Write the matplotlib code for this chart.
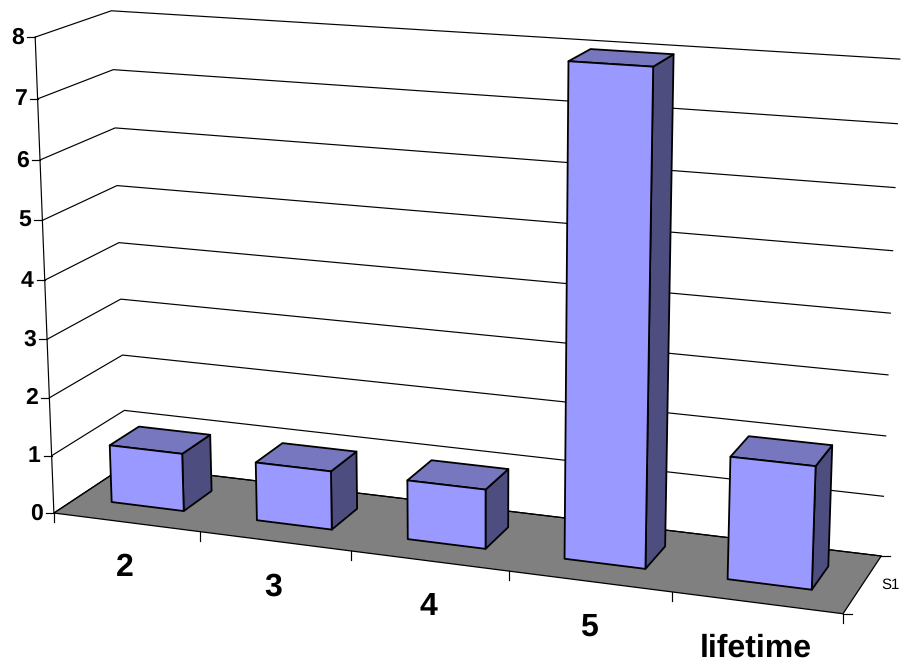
import numpy as np
import matplotlib
matplotlib.use("Agg")
import matplotlib.pyplot as plt
from matplotlib.patches import Polygon

plt.rcParams['font.family'] = ['Liberation Sans', 'DejaVu Sans']
plt.rcParams['text.hinting'] = 'none'
plt.rcParams['text.hinting_factor'] = 1

categories = ['2', '3', '4', '5', 'lifetime']
values = [1, 1, 1, 8, 2]
y_ticks = [0, 1, 2, 3, 4, 5, 6, 7, 8]
series_name = 'S1'

# Camera of the 3-D chart box: (category, depth, value) -> picture position
anchor_world = np.array([
    (0, 0, 0), (0, 0, 1), (0, 0, 7), (0, 0, 8),
    (1, 0, 0), (2, 0, 0), (3, 0, 0), (4, 0, 0), (5, 0, 0),
    (0, 1, 0), (0, 1, 1), (0, 1, 2), (0, 1, 5), (0, 1, 7), (0, 1, 8),
    (5, 1, 0), (5, 1, 1), (5, 1, 2), (5, 1, 3), (5, 1, 4), (5, 1, 5), (5, 1, 6), (5, 1, 7), (5, 1, 8),
], float)
anchor_px = np.array([
    (54, 513), (52, 455), (38, 98), (35, 37),
    (200, 532), (351, 552), (508, 572), (672, 592), (843, 613),
    (126, 465), (124, 410), (123, 355), (117, 186), (113, 70), (111, 11),
    (879, 556), (884, 496), (887, 436), (889, 375), (891, 313), (893, 250), (895, 187), (897, 124), (899, 60),
], float)


def fit_camera(w, p):
    weight = np.ones(len(w))
    for _ in range(30):
        rows, rhs = [], []
        for (x, d, z), (u, v), s in zip(w, p, weight):
            rows.append(np.array([x, d, z, 1, 0, 0, 0, 0, -u * x, -u * d, -u * z]) / s)
            rhs.append(u / s)
            rows.append(np.array([0, 0, 0, 0, x, d, z, 1, -v * x, -v * d, -v * z]) / s)
            rhs.append(v / s)
        sol = np.linalg.lstsq(np.array(rows), np.array(rhs), rcond=None)[0]
        cam = np.append(sol, 1.0).reshape(3, 4)
        weight = (cam @ np.c_[w, np.ones(len(w))].T)[2]
    return cam


CAM = fit_camera(anchor_world, anchor_px)


def pj(x, d, z):
    h = CAM @ np.array([x, d, z, 1.0])
    return h[0] / h[2], h[1] / h[2]


BAR_L, BAR_R = 0.256, 0.245
D0, D1 = 0.31, 0.72
FRONT, TOP, SIDE = '#9999FF', '#7777BF', '#4D4D80'
INK = '#000000'

fig = plt.figure(figsize=(9.01, 6.66), dpi=100)
ax = fig.add_axes([0, 0, 1, 1])
ax.set_xlim(0, 901)
ax.set_ylim(666, 0)
ax.axis('off')

n = len(categories)
zmax = y_ticks[-1]

# floor
ax.add_patch(Polygon([pj(0, 0, 0), pj(n, 0, 0), pj(n, 1, 0), pj(0, 1, 0)],
                     closed=True, fc='#808080', ec=INK, lw=0.9, zorder=1))

# gridlines on the walls and value axis
for z in y_ticks:
    pts = [pj(0, 0, z), pj(0, 1, z), pj(n, 1, z)]
    ax.plot(*zip(*pts), color=INK, lw=0.85, zorder=2)
    u, v = pj(0, 0, z)
    ax.plot([u - 8, u], [v, v], color=INK, lw=0.85, zorder=2)
    ax.text(u - 11, v + 0.5, str(z), ha='right', va='center',
            fontsize=16.5, fontweight='bold', color=INK)
ax.plot(*zip(pj(0, 0, 0), pj(0, 0, zmax)), color=INK, lw=0.85, zorder=2)

# category ticks and labels
for i in range(n + 1):
    u, v = pj(i, 0, 0)
    ax.plot([u, u], [v, v + 9], color=INK, lw=0.85, zorder=2)
for i, c in enumerate(categories):
    u, v = pj(i + 0.5, 0, 0)
    ax.text(u - 1, v + 46, c, ha='center', va='center', fontsize=23,
            fontweight='bold', color=INK)

# series tick and label
for d in (0, 1):
    u, v = pj(n, d, 0)
    ax.plot([u, u + 9], [v, v], color=INK, lw=0.85, zorder=2)
u, v = pj(n, 0.5, 0)
ax.text(u + 28, v + 0.5, series_name, ha='center', va='center', fontsize=11, color=INK)

# bars
for i, val in enumerate(values):
    x0, x1 = i + 0.5 - BAR_L, i + 0.5 + BAR_R
    side = [pj(x1, D0, 0), pj(x1, D1, 0), pj(x1, D1, val), pj(x1, D0, val)]
    top = [pj(x0, D0, val), pj(x1, D0, val), pj(x1, D1, val), pj(x0, D1, val)]
    front = [pj(x0, D0, 0), pj(x1, D0, 0), pj(x1, D0, val), pj(x0, D0, val)]
    for poly, col in ((side, SIDE), (top, TOP), (front, FRONT)):
        ax.add_patch(Polygon(poly, closed=True, fc=col, ec=INK, lw=1.3,
                             joinstyle='round', zorder=3 + i))

fig.savefig('out.png', dpi=100)
